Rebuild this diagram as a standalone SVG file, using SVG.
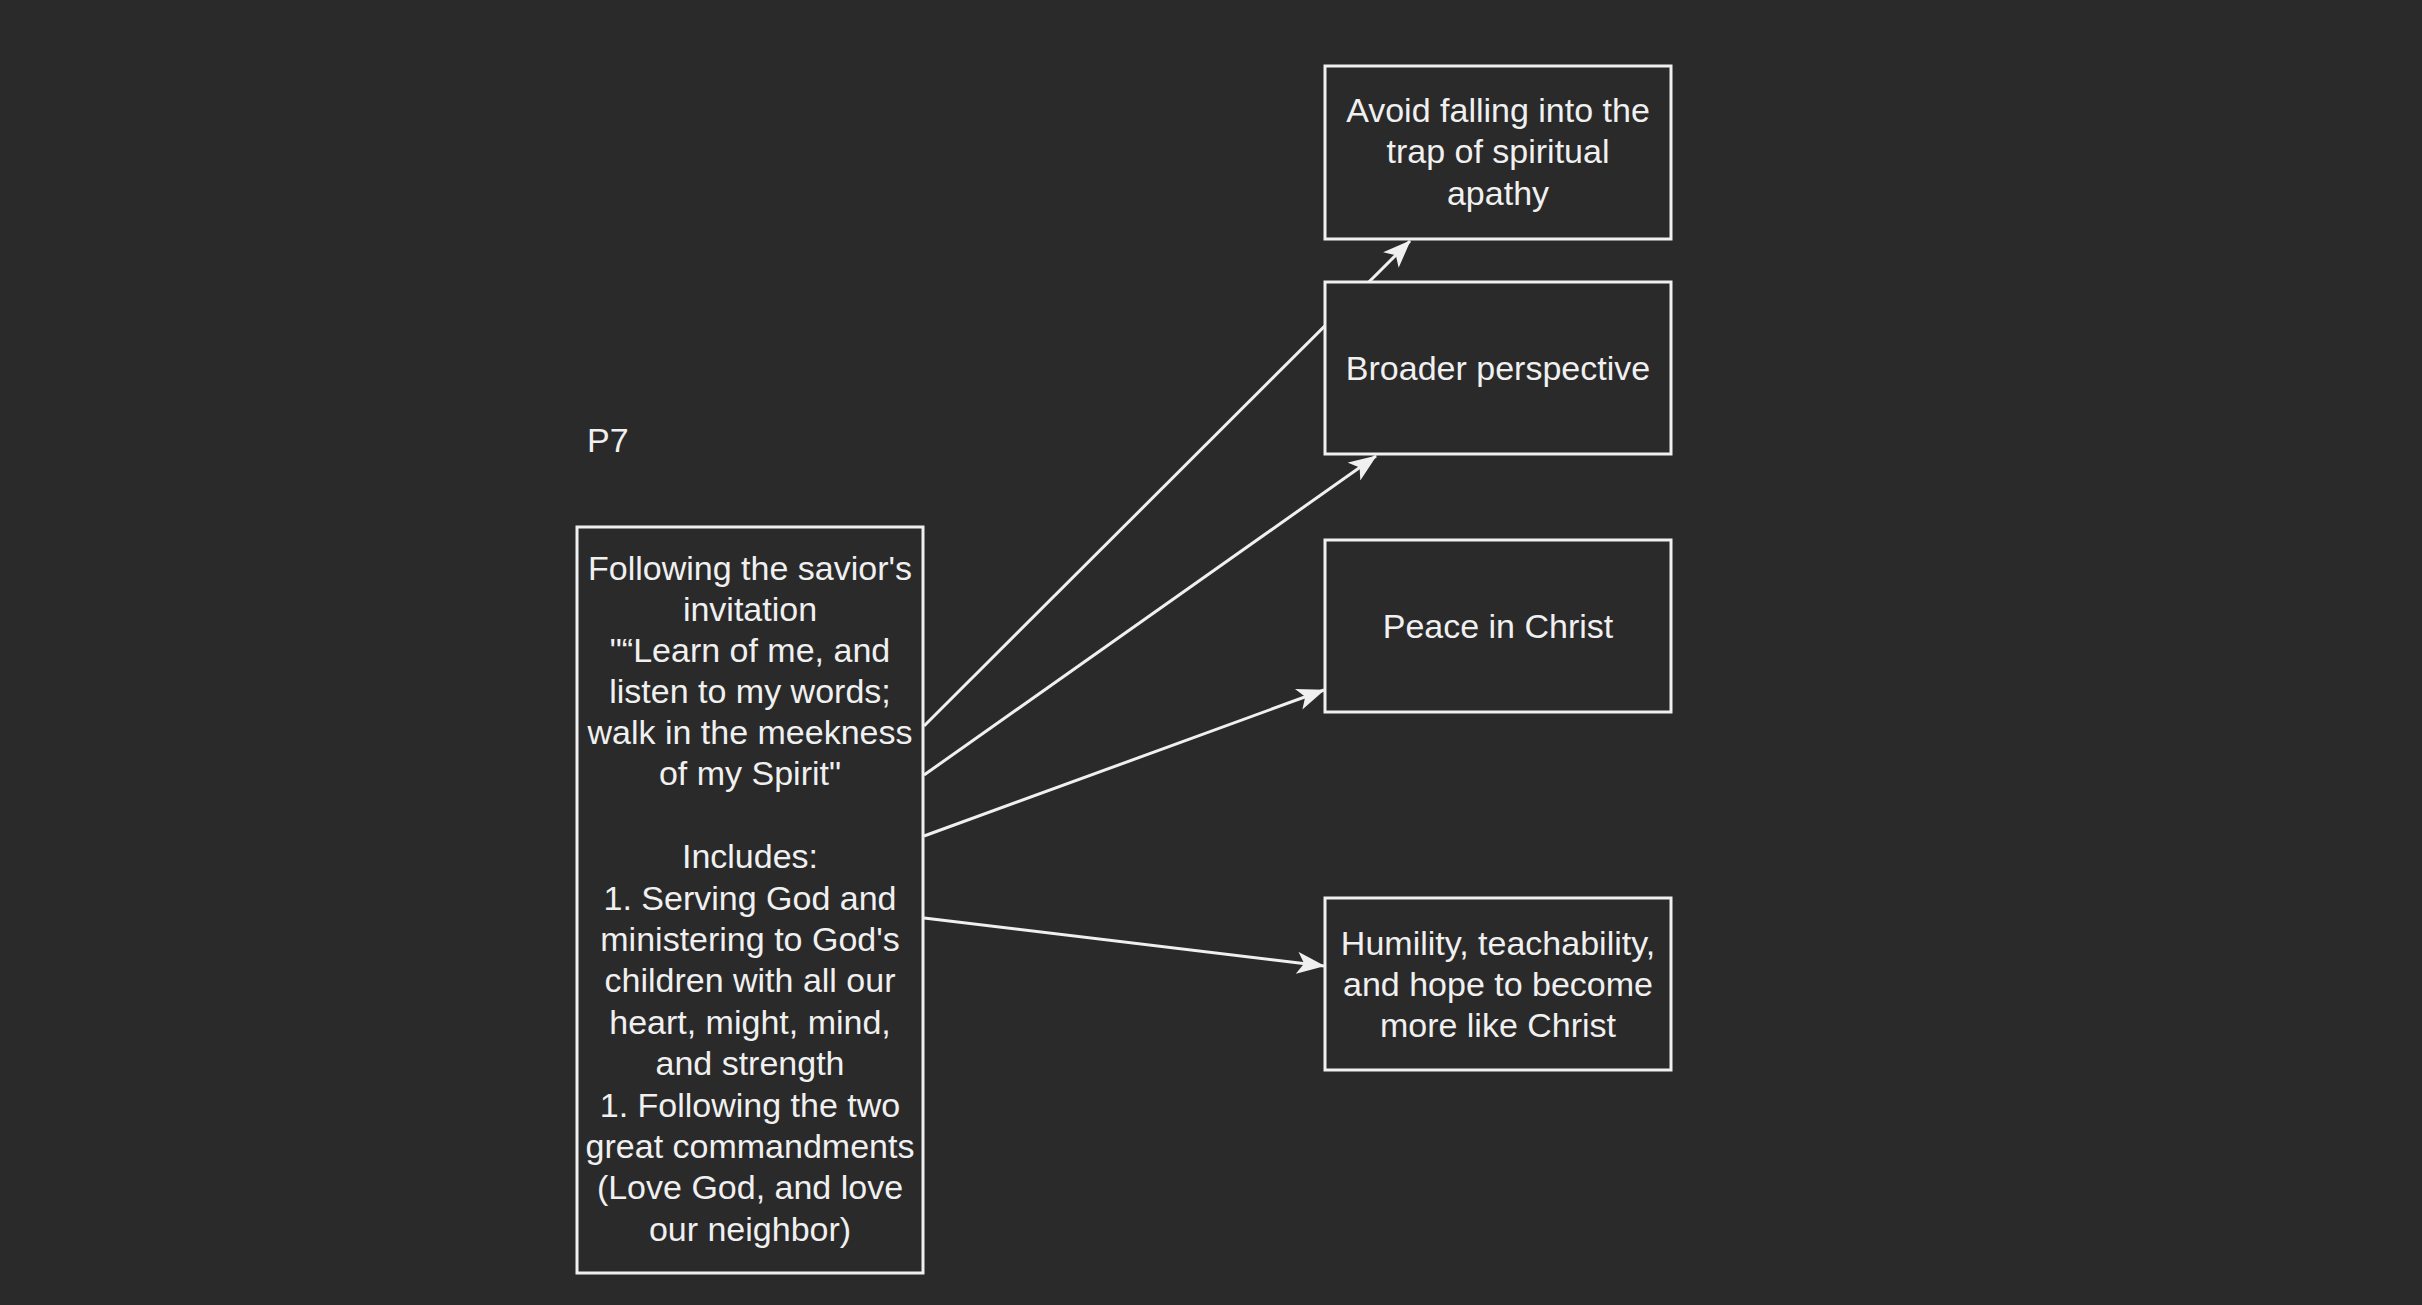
<svg xmlns="http://www.w3.org/2000/svg" width="2422" height="1305" viewBox="0 0 2422 1305">
<style>
.box{fill:#2a2a2a;stroke:#f0f0f0;stroke-width:3}
.edge{fill:none;stroke:#f0f0f0;stroke-width:3}
text{font-family:"Liberation Sans",Arial,Helvetica,sans-serif;font-size:34px;fill:#f0f0f0}
.c{text-anchor:middle}
</style>
<defs>
<marker id="arr" markerUnits="userSpaceOnUse" markerWidth="28" markerHeight="22" viewBox="0 0 28 22" refX="27" refY="11" orient="auto">
<path d="M0,0 L28,11 L0,22 L7,11 Z" fill="#f0f0f0"/>
</marker>
</defs>
<rect width="2422" height="1305" fill="#2a2a2a"/>
<g id="connectors">
<line class="edge" x1="924" y1="726" x2="1410" y2="241" marker-end="url(#arr)"/>
<line class="edge" x1="924" y1="775" x2="1376" y2="456" marker-end="url(#arr)"/>
<line class="edge" x1="924" y1="836" x2="1324" y2="690" marker-end="url(#arr)"/>
<line class="edge" x1="924" y1="918" x2="1324" y2="966" marker-end="url(#arr)"/>
</g>
<g id="label-p7"><text x="587" y="452">P7</text></g>
<g id="main">
<rect class="box" x="577" y="527" width="346" height="746"/>
<text class="c" x="750" y="580">Following the savior's</text>
<text class="c" x="750" y="621">invitation</text>
<text class="c" x="750" y="662">"“Learn of me, and</text>
<text class="c" x="750" y="703">listen to my words;</text>
<text class="c" x="750" y="744">walk in the meekness</text>
<text class="c" x="750" y="785">of my Spirit"</text>
<text class="c" x="750" y="868">Includes:</text>
<text class="c" x="750" y="910">1. Serving God and</text>
<text class="c" x="750" y="951">ministering to God's</text>
<text class="c" x="750" y="992">children with all our</text>
<text class="c" x="750" y="1034">heart, might, mind,</text>
<text class="c" x="750" y="1075">and strength</text>
<text class="c" x="750" y="1117">1. Following the two</text>
<text class="c" x="750" y="1158">great commandments</text>
<text class="c" x="750" y="1199">(Love God, and love</text>
<text class="c" x="750" y="1241">our neighbor)</text>
</g>
<g id="apathy">
<rect class="box" x="1325" y="66" width="346" height="173"/>
<text class="c" x="1498" y="122">Avoid falling into the</text>
<text class="c" x="1498" y="163">trap of spiritual</text>
<text class="c" x="1498" y="205">apathy</text>
</g>
<g id="broader">
<rect class="box" x="1325" y="282" width="346" height="172"/>
<text class="c" x="1498" y="380">Broader perspective</text>
</g>
<g id="peace">
<rect class="box" x="1325" y="540" width="346" height="172"/>
<text class="c" x="1498" y="638">Peace in Christ</text>
</g>
<g id="humility">
<rect class="box" x="1325" y="898" width="346" height="172"/>
<text class="c" x="1498" y="955">Humility, teachability,</text>
<text class="c" x="1498" y="996">and hope to become</text>
<text class="c" x="1498" y="1037">more like Christ</text>
</g>
</svg>
